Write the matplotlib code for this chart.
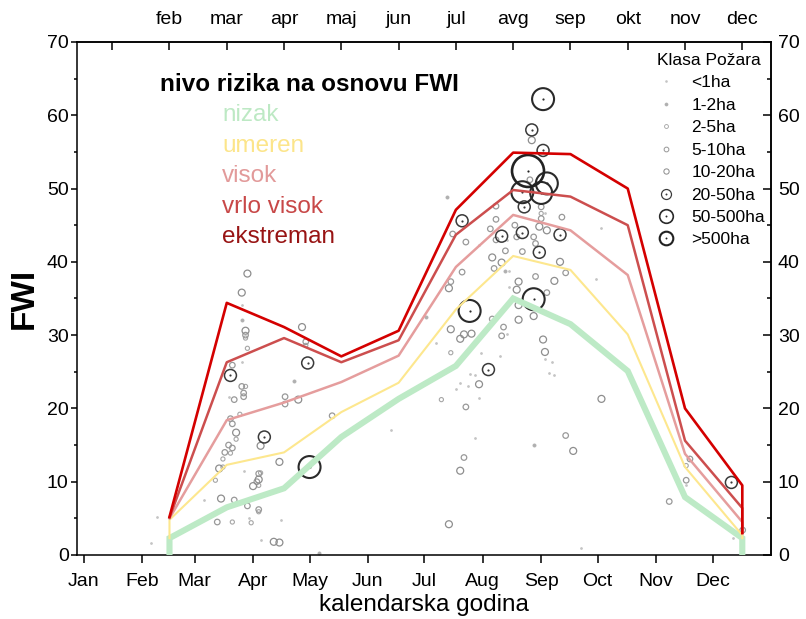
import matplotlib.pyplot as plt
from matplotlib.lines import Line2D
from matplotlib.legend_handler import HandlerTuple
from matplotlib.ticker import MultipleLocator

plt.rcParams['font.family'] = ['Liberation Sans', 'DejaVu Sans']

# monthly FWI thresholds per risk class (feb..dec), first/last entries are the end drops
risk_months = [2, 2, 3, 4, 5, 6, 7, 8, 9, 10, 11, 12, 12]
fwi_nizak = [0.0, 2.3, 6.5, 9.1, 16.1, 21.3, 25.8, 35.0, 31.5, 25.1, 7.9, 2.3, 0.0]
fwi_umeren = [2.3, 4.8, 12.3, 14.0, 19.5, 23.5, 33.5, 40.8, 38.9, 30.1, 12.0, 2.7, 2.3]
fwi_visok = [5.0, 5.0, 18.4, 20.8, 23.6, 27.2, 39.3, 46.4, 44.3, 38.2, 13.8, 4.5, 3.0]
fwi_vrlo_visok = [5.1, 5.1, 26.3, 29.6, 26.3, 29.3, 43.7, 49.8, 48.9, 45.0, 15.6, 6.4, 3.0]
fwi_ekstreman = [5.2, 5.2, 34.4, 31.1, 27.1, 30.6, 47.1, 54.9, 54.7, 50.0, 20.0, 9.5, 3.0]

# fires: day of year and FWI on that day, per burnt-area class
day_lt1 = [85, 85, 78, 65, 86, 106, 164, 209, 227, 226, 265, 246, 250, 248, 251, 276, 273,
           321, 346, 40, 212, 222, 199, 205, 209, 227, 246, 211, 206, 188, 211, 201, 226, 89, 95, 37]
fwi_lt1 = [34.1, 26.4, 21.6, 7.5, 11.4, 4.8, 17.1, 16.0, 38.7, 43.0, 0.9, 26.8, 26.4, 24.8, 24.6,
           44.6, 37.7, 9.5, 2.3, 5.2, 27.5, 27.1, 22.7, 23.1, 24.6, 36.6, 46.7, 42.3, 24.7, 28.9,
           21.4, 23.4, 30.2, 5.0, 2.0, 1.6]
day_1_2 = [85, 113, 126, 225, 183, 194, 240]
fwi_1_2 = [32.0, 23.8, 0.3, 38.7, 32.5, 48.9, 15.0]
day_2_5 = [87, 88, 119, 87, 84, 82, 79, 75, 75, 71, 80, 95, 94, 94, 90, 196, 191, 244, 321]
fwi_2_5 = [29.6, 28.2, 28.6, 23.0, 19.2, 15.8, 13.9, 13.1, 12.0, 10.2, 4.5, 11.2, 9.5, 5.9, 4.4,
           27.6, 21.2, 46.6, 12.2]
day_5_10 = [87, 119, 80, 85, 86, 86, 81, 108, 108, 79, 80, 78, 80, 76, 81, 72, 94, 93, 88, 94,
            133, 197, 204, 202, 196, 204, 203, 218, 224, 223, 257, 219, 225, 241, 257, 247, 234,
            244, 244, 255, 220, 220, 217, 230, 231, 220, 240, 241, 238, 312, 323, 321, 351]
fwi_5_10 = [30.0, 29.1, 25.9, 23.0, 22.1, 21.6, 21.2, 21.6, 20.6, 18.6, 17.9, 15.0, 14.6, 14.0,
            7.5, 4.5, 11.1, 10.0, 6.7, 6.2, 19.0, 43.8, 42.7, 38.6, 37.3, 20.2, 13.3, 32.2, 31.1,
            29.9, 16.3, 39.1, 41.5, 38.0, 38.5, 35.8, 41.4, 47.5, 45.9, 46.1, 47.6, 45.8, 44.5,
            45.0, 43.4, 43.0, 43.4, 42.5, 51.2, 7.3, 13.1, 10.2, 3.4]
day_10_20 = [88, 85, 87, 117, 115, 82, 73, 74, 95, 94, 91, 102, 105, 105, 195, 196, 201, 203,
             207, 211, 201, 195, 232, 232, 240, 245, 246, 261, 276, 218, 223, 232, 231, 251, 254,
             239, 243, 247]
fwi_10_20 = [38.4, 35.8, 30.6, 31.1, 21.2, 16.7, 11.8, 7.7, 14.9, 10.3, 9.4, 1.8, 1.7, 12.7,
             36.4, 30.8, 29.5, 30.1, 30.2, 23.3, 11.5, 4.2, 32.1, 34.1, 32.6, 29.4, 27.7, 14.2,
             21.3, 40.6, 39.9, 37.3, 36.2, 37.4, 40.0, 56.6, 44.8, 44.3]
day_20_50 = [79, 120, 97, 202, 239, 245, 235, 223, 234, 254, 243, 216, 345]
fwi_20_50 = [24.5, 26.2, 16.1, 45.6, 58.0, 55.2, 47.5, 43.5, 44.0, 43.7, 41.3, 25.3, 9.9]
day_50_500 = [245, 247, 206, 121, 240, 234, 244]
fwi_50_500 = [62.2, 50.7, 33.3, 12.0, 34.9, 49.5, 49.4]
day_500plus = [237]
fwi_500plus = [52.4]

month_starts = [1, 32, 60, 91, 121, 152, 182, 213, 244, 274, 305, 335]
month_labels = ['Jan', 'Feb', 'Mar', 'Apr', 'May', 'Jun', 'Jul', 'Aug', 'Sep', 'Oct', 'Nov', 'Dec']
top_labels = ['', 'feb', 'mar', 'apr', 'maj', 'jun', 'jul', 'avg', 'sep', 'okt', 'nov', 'dec']


def mid_day(m):
    return 1 + (m - 0.5) * 365 / 12


fig = plt.figure(figsize=(8.06, 6.19), dpi=100)
ax = fig.add_axes([0.0955, 0.1034, 0.861, 0.8288])

# fire points: (days, fwi, label, size, color, linewidth, filled, center dot, legend size)
classes = [
    (day_lt1, fwi_lt1, '<1ha', 2, '#c4c4c4', 0.5, True, False, 1.4),
    (day_1_2, fwi_1_2, '1-2ha', 5, '#b0b0b0', 0.6, True, False, 2.2),
    (day_2_5, fwi_2_5, '2-5ha', 9, '#a6a6a6', 0.8, False, False, 2.8),
    (day_5_10, fwi_5_10, '5-10ha', 16, '#999999', 0.9, False, False, 3.4),
    (day_10_20, fwi_10_20, '10-20ha', 25, '#8e8e8e', 0.9, False, False, 3.8),
    (day_20_50, fwi_20_50, '20-50ha', 74, '#3a3a3a', 1.1, False, True, 7.2),
    (day_50_500, fwi_50_500, '50-500ha', 250, '#2a2a2a', 1.5, False, True, 9.8),
    (day_500plus, fwi_500plus, '>500ha', 530, '#222222', 1.9, False, True, 9.8),
]

handles = []
for days, vals, label, s, col, lw, filled, dot, ms in classes:
    ax.scatter(days, vals, s=s, facecolors=col if filled else 'none', edgecolors=col,
               linewidths=lw, zorder=2)
    ring = Line2D([], [], ls='', marker='o', ms=ms, mfc=col if filled else 'none', mec=col, mew=lw * 0.8)
    if dot:
        ax.scatter(days, vals, s=2.5, color=col, linewidths=0, zorder=2)
        handles.append((ring, Line2D([], [], ls='', marker='o', ms=1.4, mfc=col, mec=col, mew=0)))
    else:
        handles.append(ring)

x_line = [mid_day(m) for m in risk_months]
ax.plot(x_line, fwi_nizak, color='#bdeac6', lw=4.4, solid_joinstyle='miter', zorder=3)
ax.plot(x_line, fwi_umeren, color='#fde78e', lw=1.5, zorder=3)
ax.plot(x_line, fwi_visok, color='#e59d9d', lw=1.8, zorder=3)
ax.plot(x_line, fwi_vrlo_visok, color='#cc4e4e', lw=1.8, zorder=3)
ax.plot(x_line, fwi_ekstreman, color='#d40000', lw=1.9, zorder=3)

ax.text(0.1196, 0.9051, 'nivo rizika na osnovu FWI', transform=ax.transAxes, fontsize=17.5,
        fontweight='bold', va='baseline', ha='left')
risk_names = ['nizak', 'umeren', 'visok', 'vrlo visok', 'ekstreman']
risk_colors = ['#bde9c4', '#fce58a', '#e29a9a', '#c84848', '#981414']
for i, (name, col) in enumerate(zip(risk_names, risk_colors)):
    ax.text(0.209, 0.846 - i * 0.0597, name, transform=ax.transAxes, fontsize=17.5,
            color=col, va='baseline', ha='left')

leg = ax.legend(handles, [c[2] for c in classes], title='Klasa Požara', loc='upper right',
                bbox_to_anchor=(772 / 806, 1 - 46 / 619), bbox_transform=fig.transFigure,
                frameon=False, fontsize=12.5, title_fontsize=12.5, handlelength=1.6,
                handletextpad=0.65, labelspacing=0.42, borderaxespad=0,
                handler_map={tuple: HandlerTuple(ndivide=1)})

ax.set_xlim(-2.5, 366)
ax.set_ylim(0, 70)
ax.set_xticks(month_starts)
ax.set_xticklabels(month_labels)
ax.yaxis.set_major_locator(MultipleLocator(10))
ax.yaxis.set_minor_locator(MultipleLocator(5))
ax.tick_params(axis='both', which='major', labelsize=14, direction='out', width=1.1)
ax.tick_params(axis='x', length=6, pad=7)
ax.tick_params(axis='y', length=4, pad=2)
ax.tick_params(axis='y', which='minor', direction='out', length=2.5, width=1.1)

right = ax.secondary_yaxis('right')
right.yaxis.set_major_locator(MultipleLocator(10))
right.yaxis.set_minor_locator(MultipleLocator(5))
right.tick_params(which='major', direction='in', length=6, width=1.1, labelsize=14, pad=5)
right.tick_params(which='minor', direction='in', length=3, width=1.1)

top = ax.secondary_xaxis('top')
top.set_xticks([mid_day(m) for m in range(1, 13)])
top.set_xticklabels(top_labels)
top.tick_params(direction='in', length=6, width=1.1, labelsize=14, pad=10)

for sp in list(ax.spines.values()) + [right.spines['right'], top.spines['top']]:
    sp.set_linewidth(1.1)

ax.set_xlabel('kalendarska godina', fontsize=17.5, labelpad=3)
ax.set_ylabel('FWI', fontsize=24, fontweight='bold', labelpad=5)

# the secondary axes carry no axis titles of their own
for sec in (right, top):
    sec.xaxis.label.set_visible(False)
    sec.yaxis.label.set_visible(False)

fig.savefig('out.png', dpi=100)
